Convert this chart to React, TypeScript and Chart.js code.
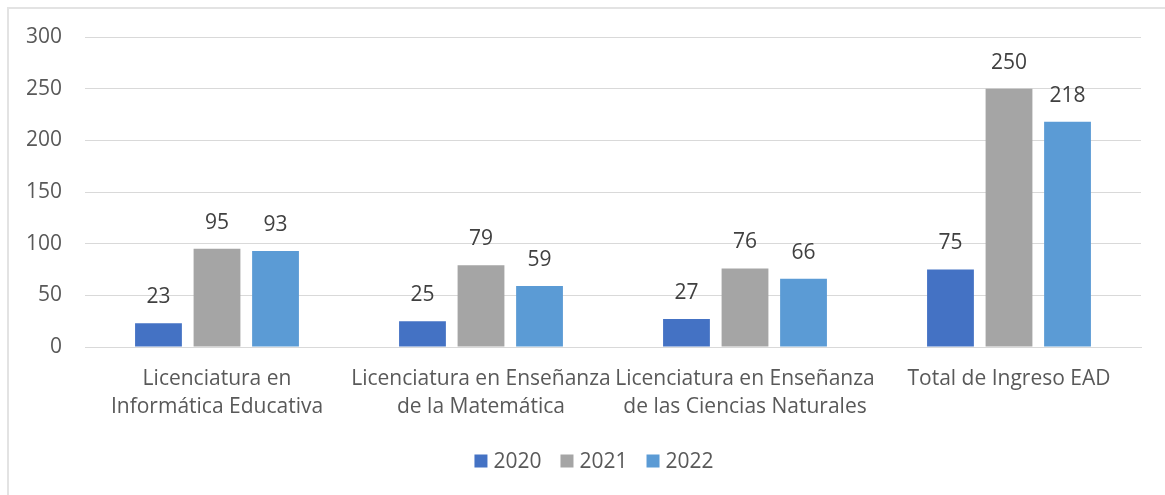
import React, { useEffect, useRef } from "react";
import { Chart, registerables } from "chart.js";

Chart.register(...registerables);

const categories: string[][] = [
  ["Licenciatura en", "Informática Educativa"],
  ["Licenciatura en Enseñanza", "de la Matemática"],
  ["Licenciatura en Enseñanza", "de las Ciencias Naturales"],
  ["Total de Ingreso EAD"],
];
const seriesNames = ["2020", "2021", "2022"];
const values2020 = [23, 25, 27, 75];
const values2021 = [95, 79, 76, 250];
const values2022 = [93, 59, 66, 218];
const colors = ["#4472C4", "#A5A5A5", "#5B9BD5"];

const FONT = "'Open Sans', sans-serif";

const dataLabelPlugin = {
  id: "dataLabels",
  afterDatasetsDraw(chart: any) {
    const { ctx } = chart;
    ctx.save();
    ctx.font = `21px ${FONT}`;
    ctx.fillStyle = "#404040";
    ctx.textAlign = "center";
    ctx.textBaseline = "middle";
    chart.data.datasets.forEach((ds: any, i: number) => {
      const meta = chart.getDatasetMeta(i);
      meta.data.forEach((bar: any, j: number) => {
        ctx.fillText(String(ds.data[j]), bar.x, bar.y - 26);
      });
    });
    ctx.restore();
  },
};

const legendPlugin = {
  id: "customLegend",
  afterDraw(chart: any) {
    const { ctx } = chart;
    ctx.save();
    ctx.font = `21px ${FONT}`;
    ctx.textBaseline = "middle";
    ctx.textAlign = "left";
    const box = 13;
    const textGap = 6;
    const itemGap = 19;
    const cy = chart.chartArea.bottom + 114;
    const widths = chart.data.datasets.map(
      (ds: any) => box + textGap + ctx.measureText(ds.label).width
    );
    const total = widths.reduce((a: number, b: number) => a + b, 0) + itemGap * (widths.length - 1);
    let x = 594 - total / 2;
    chart.data.datasets.forEach((ds: any, i: number) => {
      ctx.fillStyle = ds.backgroundColor;
      ctx.fillRect(x, cy - box / 2, box, box);
      ctx.fillStyle = "#595959";
      ctx.fillText(ds.label, x + box + textGap, cy + 1);
      x += widths[i] + itemGap;
    });
    ctx.restore();
  },
};

export default function App() {
  const ref = useRef<HTMLCanvasElement>(null);
  useEffect(() => {
    if (!ref.current) return;
    const chart = new Chart(ref.current, {
      type: "bar",
      data: {
        labels: categories,
        datasets: [values2020, values2021, values2022].map((d, i) => ({
          label: seriesNames[i],
          data: d,
          backgroundColor: colors[i],
          categoryPercentage: 0.665,
          barPercentage: 0.8,
        })),
      },
      options: {
        responsive: false,
        animation: false,
        layout: { padding: { top: 37, left: 0, right: 24, bottom: 63 } },
        plugins: {
          tooltip: { enabled: false },
          legend: { display: false },
        },
        scales: {
          x: {
            grid: { display: false },
            border: { display: true, color: "#d9d9d9" },
            ticks: {
              color: "#595959",
              font: { family: FONT, size: 21, lineHeight: "28px" },
              padding: 10,
              maxRotation: 0,
              autoSkip: false,
            },
            afterFit(scale: any) {
              scale.height = 85;
            },
          },
          y: {
            min: 0,
            max: 300,
            ticks: {
              stepSize: 50,
              color: "#595959",
              font: { family: FONT, size: 21 },
              padding: 23,
            },
            grid: { color: "#d9d9d9", drawTicks: false, lineWidth: 1 },
            border: { display: false },
            afterFit(scale: any) {
              scale.width = 85;
            },
          },
        },
      },
      plugins: [dataLabelPlugin, legendPlugin],
    });
    return () => chart.destroy();
  }, []);

  return (
    <div style={{ position: "fixed", left: 0, top: 0, width: 1165, height: 495, background: "#fff" }}>
      <div
        style={{
          position: "absolute",
          left: 7,
          top: 7,
          width: 1158,
          height: 488,
          borderLeft: "2px solid #e3e3e3",
          borderTop: "2px solid #e3e3e3",
          boxSizing: "border-box",
        }}
      />
      <canvas ref={ref} width={1165} height={495} style={{ position: "absolute", left: 0, top: 0 }} />
    </div>
  );
}
